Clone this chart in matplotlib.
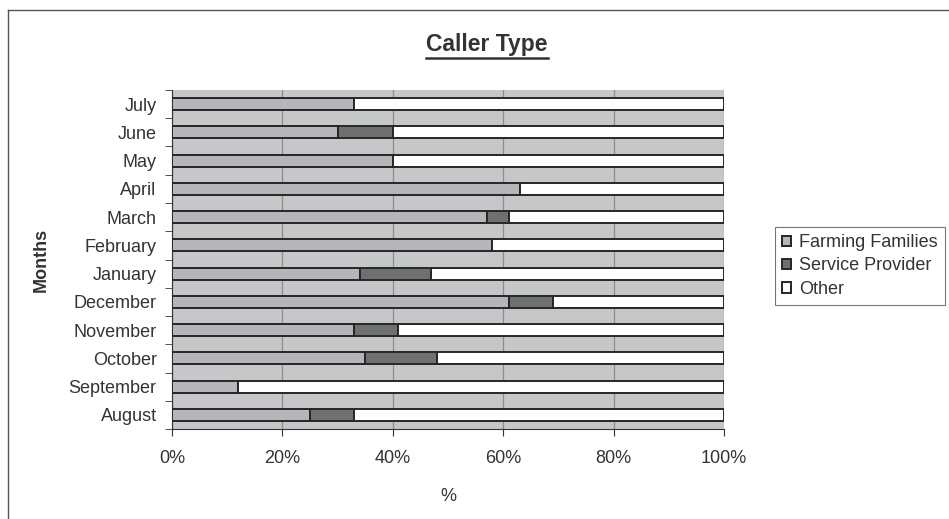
import matplotlib.pyplot as plt
import numpy as np

plt.rcParams['font.family'] = ['Liberation Sans', 'DejaVu Sans']

# --- Caller type share per month (%) ---
months = ['August', 'September', 'October', 'November', 'December', 'January',
          'February', 'March', 'April', 'May', 'June', 'July']
farming = np.array([25, 12, 35, 33, 61, 34, 58, 57, 63, 40, 30, 33])
service = np.array([8, 0, 13, 8, 8, 13, 0, 4, 0, 0, 10, 0])
other = 100 - farming - service

series = [('Farming Families', farming, '#b4b6b9'),
          ('Service Provider', service, '#6f7072'),
          ('Other', other, '#ffffff')]

fig = plt.figure(figsize=(9.49, 5.19), dpi=100)
ax = fig.add_axes([0.1812, 0.1734, 0.5817, 0.6532])
ax.set_facecolor('#c5c7c9')

# outer chart frame
fig.add_artist(plt.Line2D([8 / 949, 1.0], [1 - 10 / 519] * 2, color='#555555', lw=1.0))
fig.add_artist(plt.Line2D([8 / 949] * 2, [1 - 10 / 519, 0.0], color='#555555', lw=1.0))

y = np.arange(len(months))
left = np.zeros(len(months))
for name, vals, col in series:
    ax.barh(y, vals, left=left, height=0.42, color=col, edgecolor='#262626',
            linewidth=1.4, label=name, zorder=3)
    left = left + vals

ax.set_xlim(0, 100)
ax.set_ylim(-0.5, len(months) - 0.5)
ax.set_xticks(np.arange(0, 101, 20))
ax.set_xticklabels([f'{v}%' for v in range(0, 101, 20)], fontsize=13, color='#333333')
ax.set_yticks(y)
ax.set_yticklabels(months, fontsize=13, color='#333333')
ax.set_yticks(np.arange(-0.5, len(months), 1), minor=True)
ax.tick_params(axis='y', which='major', length=0, pad=11)
ax.tick_params(axis='y', which='minor', length=5, color='#333333')
ax.tick_params(axis='x', length=5, color='#333333', pad=10)
ax.xaxis.grid(True, color='#8c8c8c', linewidth=0.9, zorder=0)
ax.set_axisbelow(True)
for side in ['top', 'right']:
    ax.spines[side].set_visible(False)
for side in ['left', 'bottom']:
    ax.spines[side].set_color('#333333')

ax.set_xlabel('%', fontsize=13, color='#333333')
ax.xaxis.set_label_coords(0.5, -0.175)
ax.set_ylabel('Months', fontsize=13, fontweight='bold', color='#333333')
ax.yaxis.set_label_coords(-0.222, 0.5)

# underlined title, centred over the whole chart
title = fig.text(487 / 949, 1 - 44 / 519, 'Caller Type', fontsize=16.5,
                 fontweight='bold', color='#333333', ha='center', va='center')
fig.canvas.draw()
bb = title.get_window_extent()
fig.add_artist(plt.Line2D([bb.x0 / 949, bb.x1 / 949], [(bb.y0 - 2) / 519] * 2,
                          color='#333333', lw=1.8))

leg = fig.legend(loc='center left', bbox_to_anchor=(775 / 949, 1 - 266 / 519),
                 fontsize=13, frameon=True, fancybox=False, edgecolor='#555555',
                 handlelength=0.5, handleheight=0.5, handletextpad=0.45,
                 labelspacing=0.35, borderpad=0.4, borderaxespad=0,
                 labelcolor='#333333')
leg.get_frame().set_linewidth(0.8)

plt.savefig('out.png', dpi=100)
